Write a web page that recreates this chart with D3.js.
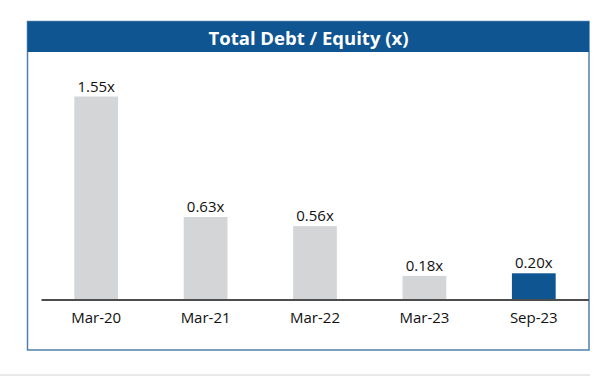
<!DOCTYPE html>
<html>
<head>
<meta charset="utf-8">
<script src="https://cdn.jsdelivr.net/npm/d3@7"></script>
<style>
  body { margin: 0; background: #fff; }
  svg { display: block; }
</style>
</head>
<body>
<div id="container"></div>
<script>
let categories = ["Mar-20", "Mar-21", "Mar-22", "Mar-23", "Sep-23"];
let values = [1.55, 0.63, 0.56, 0.18, 0.20];
let labels = ["1.55x", "0.63x", "0.56x", "0.18x", "0.20x"];
let title = "Total Debt / Equity (x)";

let w = 615;
let h = 376;
let font = "'Open Sans', sans-serif";

let viz = d3.select("#container")
  .append("svg")
  .attr("width", w)
  .attr("height", h);

// faint strip at the very bottom
viz.append("line")
  .attr("x1", 0).attr("x2", 590)
  .attr("y1", 375).attr("y2", 375)
  .attr("stroke", "#e9e9e9")
  .attr("stroke-width", 2);

// frame
viz.append("rect")
  .attr("x", 27.5).attr("y", 21.5)
  .attr("width", 561.5).attr("height", 328.5)
  .attr("fill", "#fff")
  .attr("stroke", "#5080aa")
  .attr("stroke-width", 1.5);

// header
viz.append("rect")
  .attr("x", 27.5).attr("y", 21.5)
  .attr("width", 561.5).attr("height", 30.5)
  .attr("fill", "#0f5591");

viz.append("text")
  .attr("x", 308.5).attr("y", 44.5)
  .attr("text-anchor", "middle")
  .attr("fill", "#fff")
  .style("font-family", font)
  .style("font-weight", "bold")
  .style("font-size", "18.5px")
  .text(title);

let x = d3.scaleBand()
  .domain(categories)
  .range([41.5, 588.5])
  .paddingInner(0.6)
  .paddingOuter(0.3);

let y = d3.scaleLinear()
  .domain([0, 1.55])
  .range([299.5, 96.5]);

viz.selectAll(".bar").data(values).enter()
  .append("rect")
  .attr("class", "bar")
  .attr("x", (d, i) => x(categories[i]))
  .attr("y", d => y(d))
  .attr("width", x.bandwidth())
  .attr("height", d => y(0) - y(d))
  .attr("fill", (d, i) => i === categories.length - 1 ? "#0f5591" : "#d4d5d7");

viz.selectAll(".val").data(values).enter()
  .append("text")
  .attr("class", "val")
  .attr("x", (d, i) => x(categories[i]) + x.bandwidth() / 2)
  .attr("y", d => y(d) - 5)
  .attr("text-anchor", "middle")
  .attr("fill", "#111")
  .style("font-family", font)
  .style("font-size", "15px")
  .text((d, i) => labels[i]);

let xAxis = viz.append("g")
  .attr("transform", "translate(0,300)")
  .call(d3.axisBottom(x).tickSize(0).tickPadding(12));

xAxis.select(".domain")
  .attr("d", "M41.5,0H589")
  .attr("stroke", "#4d4d4d")
  .attr("stroke-width", 2);

xAxis.selectAll("text")
  .attr("fill", "#111")
  .style("font-family", font)
  .style("font-size", "15px");
</script>
</body>
</html>
